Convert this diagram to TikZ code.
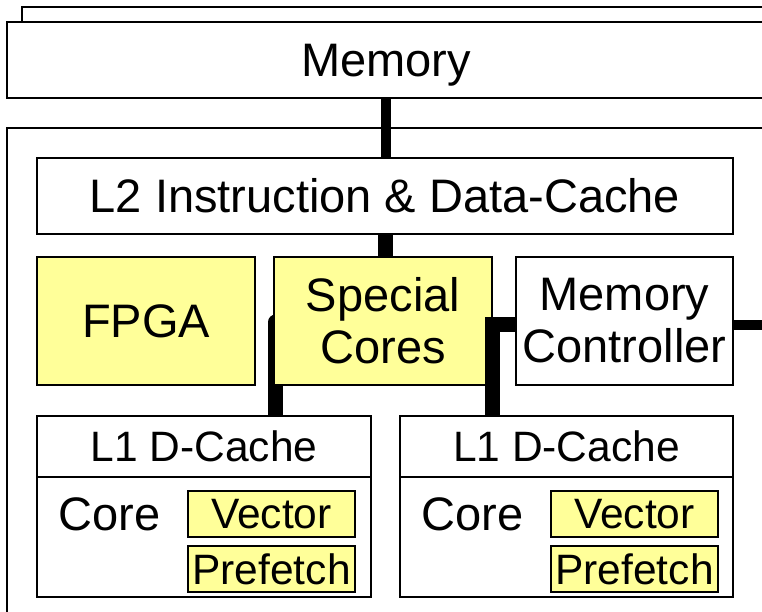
\documentclass[tikz,border=0pt]{standalone}
\usepackage{fontspec}
\setmainfont{Liberation Sans}
\usetikzlibrary{backgrounds}
\definecolor{unityellow}{HTML}{FFFF99}

\begin{document}
\begin{tikzpicture}[x=1pt, y=-1pt,
  frame/.style={draw, line width=1.8pt},
  box/.style={frame, fill=white, inner sep=0pt, align=center,
    font=\fontsize{47}{52}\selectfont},
  ybox/.style={box, fill=unityellow},
  smallbox/.style={box, font=\fontsize{42.5}{46}\selectfont},
  ysmallbox/.style={smallbox, fill=unityellow},
  bus/.style={line width=15pt},
  thinbus/.style={line width=10pt}]
\useasboundingbox (0,0) rectangle (762,611);
\clip (0,0) rectangle (762,611);
\draw[frame] (22,7) rectangle (790,80);
\node[box, minimum width=758pt, minimum height=76pt, text depth=0pt] (mem) at (386,60) {Memory};
\draw[frame] (7,128) rectangle (790,640);

\node[box, minimum width=696pt, minimum height=76pt] (l2) at (385,196) {L2 Instruction \& Data-Cache};
\node[ybox, minimum width=218pt, minimum height=128pt] (fpga) at (146,321) {FPGA};
\node[ybox, minimum width=218pt, minimum height=128pt] (special) at (383,321) {Special\\Cores};
\node[box, minimum width=217pt, minimum height=128pt] (memctrl) at (624.5,321) {Memory\\Controller};

\node[smallbox, minimum width=334pt, minimum height=61pt] (l1a) at (204,446.5) {L1 D-Cache};
\node[box, minimum width=334pt, minimum height=120pt] (corea) at (204,537) {};
\node[font=\fontsize{47}{52}\selectfont, inner sep=0pt] (corelbla) at (109.5,514) {Core};
\node[ysmallbox, minimum width=167pt, minimum height=46pt] (vectora) at (271.5,514) {Vector};
\node[ysmallbox, minimum width=167pt, minimum height=46pt] (prefetcha) at (271.5,569) {Prefetch};

\node[smallbox, minimum width=333pt, minimum height=61pt] (l1b) at (566.5,446.5) {L1 D-Cache};
\node[box, minimum width=333pt, minimum height=120pt] (coreb) at (566.5,537) {};
\node[font=\fontsize{47}{52}\selectfont, inner sep=0pt] (corelblb) at (472.5,514) {Core};
\node[ysmallbox, minimum width=167pt, minimum height=46pt] (vectorb) at (634.5,514) {Vector};
\node[ysmallbox, minimum width=167pt, minimum height=46pt] (prefetchb) at (634.5,569) {Prefetch};

\coordinate (edge) at (775,324.5);

% buses
\draw[thinbus] (mem.south) -- (mem.south |- l2.north);
\draw[bus] (l2.south) -- (l2.south |- special.north);
\begin{scope}[on background layer]
\draw[bus, line cap=round] ([xshift=2.5pt, yshift=-1pt]special.west) -- ([xshift=2.5pt]special.west |- l1a.north);
\end{scope}
\draw[bus] ([yshift=-3.5pt]memctrl.west) -| (special.east |- l1b.north);
\draw[thinbus] ([yshift=-3.5pt]memctrl.east) -- (edge);

\end{tikzpicture}
\end{document}
